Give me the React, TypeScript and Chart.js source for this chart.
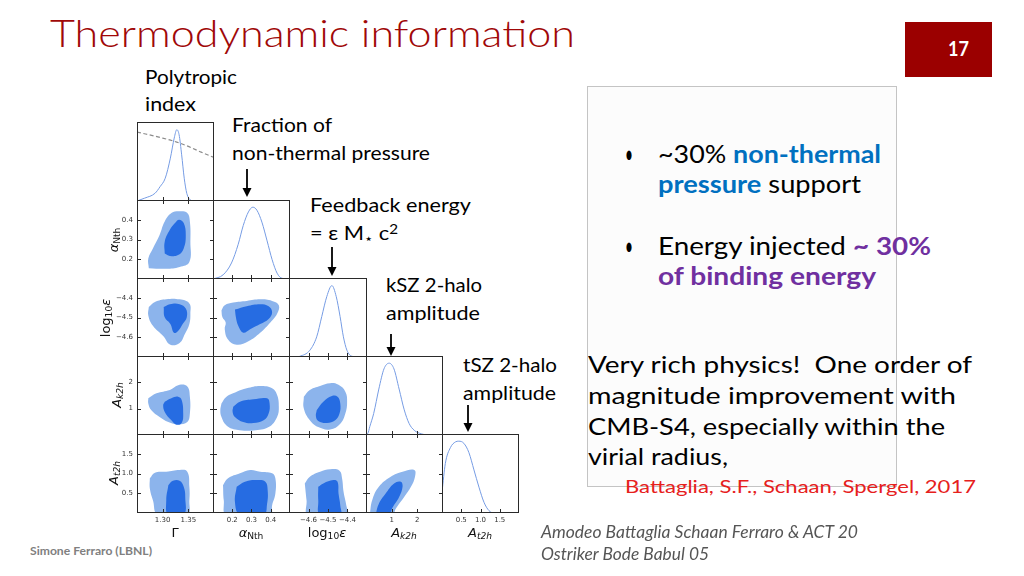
import React, { useEffect, useLayoutEffect, useRef } from "react";
import { Chart, registerables } from "chart.js";
Chart.register(...registerables);

type Pt = [number, number];

// ---------- axes (limits, tick values, tick labels) ----------
const gammaLim = [1.25, 1.4];
const gammaTicks = [1.3, 1.35];
const gammaLabels = ["1.30", "1.35"];
const alphaLim = [0.1, 0.5];
const alphaTicks = [0.2, 0.3, 0.4];
const alphaLabels = ["0.2", "0.3", "0.4"];
const epsLim = [-4.7, -4.3];
const epsTicks = [-4.6, -4.5, -4.4];
const epsLabels = ["\u22124.6", "\u22124.5", "\u22124.4"];
const akLim = [0, 3];
const akTicks = [1, 2];
const akLabels = ["1", "2"];
const atLim = [0, 2];
const atTicks = [0.5, 1.0, 1.5];
const atLabels = ["0.5", "1.0", "1.5"];
const pdfLim = [0, 1.1];

// ---------- 1D marginals ----------
const gammaPdfX = [1.25, 1.265, 1.285, 1.295, 1.305, 1.315, 1.3225, 1.3275, 1.332, 1.337, 1.342, 1.347, 1.354, 1.36, 1.4];
const gammaPdfY = [0, 0.04, 0.107, 0.2, 0.317, 0.597, 0.876, 0.993, 0.923, 0.643, 0.317, 0.107, 0.014, 0, 0];
const gammaPriorX = [1.25, 1.3, 1.3275, 1.35, 1.375, 1.4];
const gammaPriorY = [0.96, 0.876, 0.82, 0.76, 0.68, 0.606];
const alphaPdfX = [0.1, 0.152, 0.196, 0.231, 0.257, 0.284, 0.307, 0.328, 0.354, 0.381, 0.407, 0.433, 0.459, 0.5];
const alphaPdfY = [0, 0.057, 0.223, 0.484, 0.744, 0.934, 1.0, 0.958, 0.792, 0.531, 0.27, 0.081, 0.009, 0];
const epsPdfX = [-4.7, -4.66, -4.645, -4.593, -4.558, -4.532, -4.506, -4.48, -4.458, -4.438, -4.421, -4.403, -4.376, -4.34, -4.3];
const epsPdfY = [0, 0, 0.009, 0.094, 0.281, 0.563, 0.844, 0.994, 0.844, 0.563, 0.281, 0.094, 0.009, 0, 0];
const akPdfX = [0, 0.07, 0.15, 0.3, 0.5, 0.7, 0.9, 1.09, 1.29, 1.49, 1.68, 1.88, 2.15, 2.41, 3];
const akPdfY = [0.01, 0.02, 0.12, 0.3, 0.64, 0.92, 1.0, 0.92, 0.64, 0.35, 0.16, 0.065, 0.017, 0, 0];
const atPdfX = [0, 0.087, 0.218, 0.35, 0.436, 0.568, 0.7, 0.83, 0.96, 1.09, 1.22, 1.36, 2];
const atPdfY = [0.29, 0.69, 0.91, 0.99, 1.0, 0.97, 0.84, 0.6, 0.36, 0.15, 0.033, 0, 0];

// ---------- 2D contours (95% outer, 68% inner) ----------
const gamAlpha95: Pt[] = [[1.273, 0.155], [1.307, 0.152], [1.333, 0.161], [1.352, 0.186], [1.354, 0.289], [1.353, 0.391], [1.348, 0.434], [1.333, 0.443], [1.317, 0.434], [1.304, 0.391], [1.294, 0.323], [1.281, 0.255], [1.272, 0.204]];
const gamAlpha68: Pt[] = [[1.304, 0.229], [1.314, 0.217], [1.33, 0.221], [1.341, 0.255], [1.345, 0.323], [1.341, 0.383], [1.332, 0.4], [1.324, 0.383], [1.314, 0.349], [1.304, 0.289]];
const gamEps95: Pt[] = [[1.273, -4.447], [1.285, -4.421], [1.307, -4.407], [1.333, -4.408], [1.352, -4.429], [1.354, -4.481], [1.352, -4.533], [1.343, -4.585], [1.333, -4.629], [1.315, -4.638], [1.301, -4.594], [1.281, -4.542], [1.272, -4.49]];
const gamEps68: Pt[] = [[1.302, -4.447], [1.314, -4.433], [1.333, -4.433], [1.345, -4.455], [1.347, -4.499], [1.339, -4.533], [1.33, -4.568], [1.322, -4.577], [1.315, -4.533], [1.304, -4.499]];
const alphaEps95: Pt[] = [[0.144, -4.464], [0.161, -4.438], [0.205, -4.424], [0.275, -4.416], [0.345, -4.408], [0.407, -4.416], [0.442, -4.438], [0.433, -4.481], [0.398, -4.525], [0.345, -4.577], [0.284, -4.62], [0.223, -4.638], [0.178, -4.611], [0.161, -4.559], [0.166, -4.525], [0.149, -4.499]];
const alphaEps68: Pt[] = [[0.214, -4.46], [0.275, -4.443], [0.345, -4.433], [0.389, -4.443], [0.407, -4.473], [0.389, -4.507], [0.345, -4.533], [0.293, -4.559], [0.257, -4.577], [0.231, -4.542], [0.219, -4.499]];
const gamAk95: Pt[] = [[1.272, 1.392], [1.288, 1.585], [1.314, 1.712], [1.333, 1.904], [1.348, 1.838], [1.353, 1.454], [1.353, 0.815], [1.348, 0.492], [1.33, 0.404], [1.311, 0.492], [1.294, 0.685], [1.278, 0.942], [1.272, 1.2]];
const gamAk68: Pt[] = [[1.304, 1.262], [1.317, 1.392], [1.33, 1.454], [1.337, 1.327], [1.34, 0.815], [1.337, 0.454], [1.327, 0.392], [1.317, 0.558], [1.304, 0.877], [1.301, 1.135]];
const alphaAk95: Pt[] = [[0.144, 1.2], [0.17, 1.454], [0.223, 1.646], [0.275, 1.777], [0.345, 1.865], [0.407, 1.777], [0.433, 1.519], [0.442, 1.069], [0.433, 0.685], [0.389, 0.3], [0.31, 0.173], [0.223, 0.2], [0.17, 0.365], [0.144, 0.685], [0.138, 0.942]];
const alphaAk68: Pt[] = [[0.205, 1.069], [0.24, 1.262], [0.31, 1.354], [0.381, 1.392], [0.394, 1.2], [0.389, 0.815], [0.363, 0.558], [0.31, 0.454], [0.257, 0.492], [0.214, 0.685], [0.202, 0.877]];
const epsAk95: Pt[] = [[-4.624, 1.454], [-4.593, 1.712], [-4.541, 1.865], [-4.489, 1.969], [-4.446, 1.904], [-4.411, 1.646], [-4.402, 1.262], [-4.411, 0.815], [-4.437, 0.431], [-4.489, 0.212], [-4.55, 0.3], [-4.593, 0.558], [-4.624, 1.008]];
const epsAk68: Pt[] = [[-4.558, 0.942], [-4.524, 1.262], [-4.48, 1.481], [-4.451, 1.454], [-4.437, 1.2], [-4.441, 0.815], [-4.463, 0.558], [-4.506, 0.454], [-4.55, 0.531], [-4.562, 0.712]];
const gamAt95: Pt[] = [[1.275, 0.877], [1.285, 1.021], [1.307, 1.046], [1.333, 1.09], [1.348, 1.046], [1.352, 0.662], [1.352, 0.321], [1.348, -0.05], [1.291, -0.05], [1.281, 0.321], [1.275, 0.62]];
const gamAt68: Pt[] = [[1.311, 0.705], [1.32, 0.815], [1.333, 0.815], [1.341, 0.662], [1.344, 0.405], [1.341, -0.05], [1.311, -0.05], [1.307, 0.321]];
const alphaAt95: Pt[] = [[0.152, 0.705], [0.178, 0.877], [0.24, 1.005], [0.293, 1.09], [0.345, 1.046], [0.407, 1.005], [0.424, 0.877], [0.424, 0.492], [0.407, 0.192], [0.398, -0.05], [0.17, -0.05], [0.156, 0.321]];
const alphaAt68: Pt[] = [[0.223, 0.662], [0.266, 0.79], [0.328, 0.833], [0.372, 0.79], [0.384, 0.577], [0.381, 0.236], [0.363, -0.05], [0.24, -0.05], [0.214, 0.277]];
const epsAt95: Pt[] = [[-4.619, 0.749], [-4.593, 0.918], [-4.541, 1.046], [-4.489, 1.108], [-4.441, 1.072], [-4.428, 0.877], [-4.42, 0.533], [-4.406, 0.192], [-4.402, -0.05], [-4.602, -0.05], [-4.61, 0.321]];
const epsAt68: Pt[] = [[-4.55, 0.662], [-4.524, 0.749], [-4.472, 0.833], [-4.451, 0.79], [-4.446, 0.492], [-4.437, 0.192], [-4.437, -0.05], [-4.541, -0.05], [-4.55, 0.321]];
const akAt95: Pt[] = [[0.146, -0.05], [0.241, 0.321], [0.501, 0.662], [0.963, 0.918], [1.424, 1.046], [1.882, 1.09], [1.909, 0.918], [1.751, 0.662], [1.487, 0.405], [1.16, 0.108], [1.03, -0.05]];
const akAt68: Pt[] = [[0.371, -0.05], [0.501, 0.236], [0.765, 0.492], [1.093, 0.749], [1.357, 0.79], [1.424, 0.662], [1.29, 0.405], [1.03, 0.133], [0.895, -0.05]];

// ---------- styling / layout ----------
const LIGHT = "rgb(140,180,236)";
const DARK = "rgb(38,108,226)";
const PDF_LINE = "rgb(118,156,228)";
const FRAME = "#2a2a2a";
const colX = [137, 213, 289, 366, 442, 518];
const rowY = [122, 200, 278, 356, 434, 512];
const YW = 34;
const XH = 14;

const AXES = [
  { lim: gammaLim, ticks: gammaTicks, labels: gammaLabels },
  { lim: alphaLim, ticks: alphaTicks, labels: alphaLabels },
  { lim: epsLim, ticks: epsTicks, labels: epsLabels },
  { lim: akLim, ticks: akTicks, labels: akLabels },
  { lim: atLim, ticks: atTicks, labels: atLabels },
];

const PANELS = [
  { row: 0, col: 0, px: gammaPdfX, py: gammaPdfY, priorX: gammaPriorX, priorY: gammaPriorY },
  { row: 1, col: 1, px: alphaPdfX, py: alphaPdfY },
  { row: 2, col: 2, px: epsPdfX, py: epsPdfY },
  { row: 3, col: 3, px: akPdfX, py: akPdfY },
  { row: 4, col: 4, px: atPdfX, py: atPdfY },
  { row: 1, col: 0, outer: gamAlpha95, inner: gamAlpha68 },
  { row: 2, col: 0, outer: gamEps95, inner: gamEps68 },
  { row: 2, col: 1, outer: alphaEps95, inner: alphaEps68 },
  { row: 3, col: 0, outer: gamAk95, inner: gamAk68 },
  { row: 3, col: 1, outer: alphaAk95, inner: alphaAk68 },
  { row: 3, col: 2, outer: epsAk95, inner: epsAk68 },
  { row: 4, col: 0, outer: gamAt95, inner: gamAt68 },
  { row: 4, col: 1, outer: alphaAt95, inner: alphaAt68 },
  { row: 4, col: 2, outer: epsAt95, inner: epsAt68 },
  { row: 4, col: 3, outer: akAt95, inner: akAt68 },
];

const framePlugin = {
  id: "frame",
  afterDatasetsDraw(chart: any, _args: any, opts: any) {
    const { ctx, chartArea: a, scales } = chart;
    const L = Math.round(a.left) + 0.5;
    const R = Math.round(a.right) - 0.5;
    const T = Math.round(a.top) + 0.5;
    const B = Math.round(a.bottom) - 0.5;
    const len = 3.5;
    ctx.save();
    ctx.strokeStyle = FRAME;
    ctx.lineWidth = 1;
    ctx.strokeRect(L, T, R - L, B - T);
    ctx.beginPath();
    for (const v of opts.xt || []) {
      const x = Math.round(scales.x.getPixelForValue(v)) + 0.5;
      ctx.moveTo(x, B);
      ctx.lineTo(x, B - len);
      if (opts.full) {
        ctx.moveTo(x, T);
        ctx.lineTo(x, T + len);
      }
    }
    if (opts.full) {
      for (const v of opts.yt || []) {
        const y = Math.round(scales.y.getPixelForValue(v)) + 0.5;
        ctx.moveTo(L, y);
        ctx.lineTo(L + len, y);
        ctx.moveTo(R, y);
        ctx.lineTo(R - len, y);
      }
    }
    ctx.stroke();
    ctx.restore();
  },
};

const toXY = (xs: number[], ys: number[]) => xs.map((x, i) => ({ x, y: ys[i] }));
const closed = (pts: Pt[]) => [...pts, pts[0]].map(([x, y]) => ({ x, y }));

function Panel({ spec }: { spec: any }) {
  const ref = useRef<HTMLCanvasElement>(null);
  const { row, col } = spec;
  const is1D = row === col;
  const showX = row === 4;
  const showY = col === 0 && row > 0;
  const padL = showY ? YW : 0;
  const padB = showX ? XH : 0;
  const pw = colX[col + 1] - colX[col];
  const ph = rowY[row + 1] - rowY[row];
  const W = padL + pw + 1;
  const H = ph + 1 + padB;

  useEffect(() => {
    const xa = AXES[col];
    const ya = is1D ? { lim: pdfLim, ticks: [], labels: [] } : AXES[row];
    const datasets: any[] = [];
    if (is1D) {
      datasets.push({
        data: toXY(spec.px, spec.py),
        borderColor: PDF_LINE,
        borderWidth: 1,
        pointRadius: 0,
        fill: false,
        cubicInterpolationMode: "monotone",
      });
      if (spec.priorX) {
        datasets.push({
          data: toXY(spec.priorX, spec.priorY),
          borderColor: "rgb(140,140,140)",
          borderWidth: 1.2,
          borderDash: [4, 2.5],
          pointRadius: 0,
          fill: false,
          cubicInterpolationMode: "monotone",
        });
      }
    } else {
      // Chart.js paints dataset 0 last (on top): inner contour first
      for (const [pts, c] of [[spec.inner, DARK], [spec.outer, LIGHT]] as any) {
        datasets.push({
          data: closed(pts),
          borderColor: "rgba(0,0,0,0)",
          borderWidth: 1,
          backgroundColor: c,
          fill: "shape",
          tension: 0.42,
          pointRadius: 0,
        });
      }
    }
    const tickFont = { family: "DejaVu Sans", size: 7 };
    const chart = new Chart(ref.current as HTMLCanvasElement, {
      type: "line",
      data: { datasets },
      options: {
        animation: false,
        responsive: false,
        maintainAspectRatio: false,
        events: [],
        layout: { padding: 0 },
        plugins: {
          legend: { display: false },
          tooltip: { enabled: false },
          frame: { xt: xa.ticks, yt: ya.ticks, full: !is1D },
        } as any,
        scales: {
          x: {
            type: "linear",
            min: xa.lim[0],
            max: xa.lim[1],
            display: showX,
            grid: { display: false, drawTicks: false },
            border: { display: false },
            ticks: {
              font: tickFont,
              color: "#333",
              padding: 3,
              maxRotation: 0,
              autoSkip: false,
              callback: (_v: any, i: number) => xa.labels[i],
            },
            afterBuildTicks: (s: any) => {
              s.ticks = xa.ticks.map((v: number) => ({ value: v }));
            },
            afterFit: (s: any) => {
              if (!showX) return;
              s.height = XH;
              s.paddingLeft = 0;
              s.paddingRight = 0;
            },
          },
          y: {
            type: "linear",
            min: ya.lim[0],
            max: ya.lim[1],
            display: showY,
            grid: { display: false, drawTicks: false },
            border: { display: false },
            ticks: {
              font: tickFont,
              color: "#333",
              padding: 4,
              autoSkip: false,
              callback: (_v: any, i: number) => ya.labels[i],
            },
            afterBuildTicks: (s: any) => {
              s.ticks = ya.ticks.map((v: number) => ({ value: v }));
            },
            afterFit: (s: any) => {
              if (!showY) return;
              s.width = YW;
              s.paddingTop = 0;
              s.paddingBottom = 0;
            },
          },
        },
      } as any,
      plugins: [framePlugin],
    });
    return () => chart.destroy();
  }, []);

  return (
    <canvas
      ref={ref}
      width={W}
      height={H}
      style={{ position: "absolute", left: colX[col] - padL, top: rowY[row], width: W, height: H }}
    />
  );
}

function Txt(props: any) {
  const { x, cy, w, size, color = "#000", weight = 400, italic = false, font = "Lato", children } = props;
  const ref = useRef<HTMLDivElement>(null);
  useLayoutEffect(() => {
    const el = ref.current;
    if (!el) return;
    el.style.transform = "none";
    const nat = el.getBoundingClientRect().width;
    if (w && nat > 0) el.style.transform = `scaleX(${w / nat})`;
  });
  const lh = Math.round(size * 1.25);
  return (
    <div
      ref={ref}
      style={{
        position: "absolute",
        left: x,
        top: cy - lh / 2,
        fontFamily: font,
        fontSize: size,
        lineHeight: lh + "px",
        color,
        fontWeight: weight,
        fontStyle: italic ? "italic" : "normal",
        whiteSpace: "nowrap",
        transformOrigin: "0 50%",
      }}
    >
      {children}
    </div>
  );
}

const subS: any = { fontSize: "0.7em", verticalAlign: "-0.25em", lineHeight: 0 };
const supS: any = { fontSize: "0.7em", verticalAlign: "0.45em", lineHeight: 0 };

function AxisTitle({ cx, cy, rot, children }: any) {
  return (
    <div
      style={{
        position: "absolute",
        left: cx,
        top: cy,
        transform: `translate(-50%,-50%)${rot ? " rotate(-90deg)" : ""}`,
        fontFamily: "DejaVu Sans",
        fontSize: 13,
        lineHeight: "16px",
        whiteSpace: "nowrap",
        color: "#111",
      }}
    >
      {children}
    </div>
  );
}

const Arrow = ({ x, y1, y2 }: any) => (
  <g>
    <line x1={x} y1={y1} x2={x} y2={y2 - 7} stroke="#000" strokeWidth={1.8} />
    <polygon points={`${x - 4.5},${y2 - 9} ${x + 4.5},${y2 - 9} ${x},${y2}`} fill="#000" />
  </g>
);

const RED = "rgb(160,8,8)";
const BLUE = "#0070c0";
const PURPLE = "#7030a0";

export default function App() {
  return (
    <div
      style={{
        position: "fixed",
        left: 0,
        top: 0,
        width: 1024,
        height: 576,
        background: "#fff",
        overflow: "hidden",
        fontFamily: "Lato",
      }}
    >
      <Txt x={50} cy={33} w={525} size={37} color={RED} weight={300}>Thermodynamic information</Txt>
      <div style={{ position: "absolute", left: 905, top: 22, width: 87, height: 55, background: "rgb(155,0,0)" }} />
      <Txt x={948} cy={48} w={21} size={21} color="#fff" weight={700}>17</Txt>

      {/* annotations */}
      <Txt x={145} cy={77} w={92} size={19}>Polytropic</Txt>
      <Txt x={145} cy={104} w={51} size={19}>index</Txt>
      <Txt x={232} cy={125} w={100} size={19}>Fraction of</Txt>
      <Txt x={232} cy={153} w={198} size={19}>non-thermal pressure</Txt>
      <Txt x={310} cy={205} w={161} size={19}>Feedback energy</Txt>
      <Txt x={310} cy={233} w={88} size={19}>
        = &#949; M<span style={subS}>&#8902;</span> c<span style={supS}>2</span>
      </Txt>
      <Txt x={386} cy={285} w={96} size={19}>kSZ 2-halo</Txt>
      <Txt x={386} cy={313} w={94} size={19}>amplitude</Txt>
      <Txt x={463} cy={365} w={94} size={19}>tSZ 2-halo</Txt>
      <Txt x={463} cy={393} w={93} size={19}>amplitude</Txt>

      <svg width={1024} height={576} style={{ position: "absolute", left: 0, top: 0 }}>
        <Arrow x={247} y1={169} y2={197} />
        <Arrow x={332} y1={247} y2={276} />
        <Arrow x={391} y1={334} y2={356} />
        <Arrow x={468} y1={405} y2={432} />
      </svg>

      {/* corner plot */}
      {PANELS.map((p, i) => (
        <Panel key={i} spec={p} />
      ))}

      {/* axis titles */}
      <AxisTitle cx={175} cy={533}>&#915;</AxisTitle>
      <AxisTitle cx={251} cy={533}>
        <i>&#945;</i><span style={subS}>Nth</span>
      </AxisTitle>
      <AxisTitle cx={327} cy={533}>
        log<span style={subS}>10</span><i>&#949;</i>
      </AxisTitle>
      <AxisTitle cx={404} cy={533}>
        <i>A</i><span style={subS}><i>k2h</i></span>
      </AxisTitle>
      <AxisTitle cx={480} cy={533}>
        <i>A</i><span style={subS}><i>t2h</i></span>
      </AxisTitle>
      <AxisTitle cx={114} cy={240} rot>
        <i>&#945;</i><span style={subS}>Nth</span>
      </AxisTitle>
      <AxisTitle cx={106} cy={318} rot>
        log<span style={subS}>10</span><i>&#949;</i>
      </AxisTitle>
      <AxisTitle cx={117} cy={395} rot>
        <i>A</i><span style={subS}><i>k2h</i></span>
      </AxisTitle>
      <AxisTitle cx={114} cy={473} rot>
        <i>A</i><span style={subS}><i>t2h</i></span>
      </AxisTitle>

      {/* right text box */}
      <div
        style={{
          position: "absolute",
          left: 587,
          top: 86,
          width: 308,
          height: 399,
          border: "1px solid #c4c4c4",
          background: "#fcfcfc",
        }}
      />
      <Txt x={625} cy={153} w={8} size={25}>&#8226;</Txt>
      <Txt x={658} cy={153} w={223} size={25}>
        ~30% <b style={{ color: BLUE }}>non-thermal</b>
      </Txt>
      <Txt x={658} cy={183} w={203} size={25}>
        <b style={{ color: BLUE }}>pressure</b> support
      </Txt>
      <Txt x={625} cy={245} w={8} size={25}>&#8226;</Txt>
      <Txt x={658} cy={245} w={273} size={25}>
        Energy injected <b style={{ color: PURPLE }}>~ 30%</b>
      </Txt>
      <Txt x={658} cy={275} w={218} size={25}>
        <b style={{ color: PURPLE }}>of binding energy</b>
      </Txt>

      <Txt x={588} cy={364} w={384} size={23}>Very rich physics!&nbsp; One order of</Txt>
      <Txt x={588} cy={395} w={368} size={23}>magnitude improvement with</Txt>
      <Txt x={588} cy={426} w={357} size={23}>CMB-S4, especially within the</Txt>
      <Txt x={588} cy={456} w={140} size={23}>virial radius,</Txt>
      <Txt x={625} cy={486} w={351} size={18} color="rgb(230,32,28)">Battaglia, S.F., Schaan, Spergel, 2017</Txt>

      <Txt x={541} cy={531} w={317} size={17} italic color="#555">Amodeo Battaglia Schaan Ferraro &amp; ACT 20</Txt>
      <Txt x={541} cy={553} w={168} size={17} italic color="#555">Ostriker Bode Babul 05</Txt>
      <Txt x={30} cy={551} w={122} size={11} weight={700} color="#808080">Simone Ferraro (LBNL)</Txt>
    </div>
  );
}
